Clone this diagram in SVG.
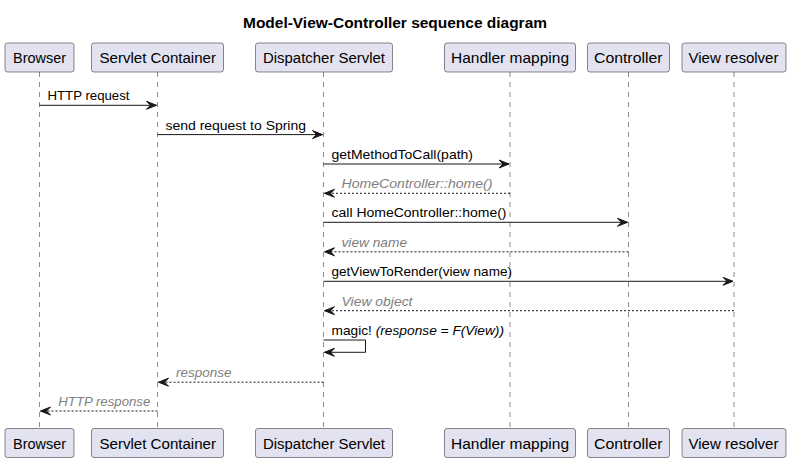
<svg xmlns="http://www.w3.org/2000/svg" width="791" height="463" viewBox="0 0 791 463">
<style>
.box{fill:#E2E2F0;stroke:#181818;stroke-width:0.5}
.plabel{font-family:"Liberation Sans",Arial,sans-serif;font-size:14px;fill:#000}
.life{stroke:#181818;stroke-width:0.5;stroke-dasharray:5,5;fill:none}
.msg{stroke:#181818;stroke-width:1;fill:none}
.ret{stroke:#181818;stroke-width:1;fill:none;stroke-dasharray:2,2}
.mlabel{font-family:"Liberation Sans",Arial,sans-serif;font-size:13px;fill:#000}
.rlabel{font-family:"Liberation Sans",Arial,sans-serif;font-size:13px;fill:#808080;font-style:italic}
.title{font-family:"Liberation Sans",Arial,sans-serif;font-size:14px;font-weight:bold;fill:#000}
</style>
<defs>
<marker id="ah" markerWidth="14" markerHeight="12" refX="11" refY="6" orient="auto" markerUnits="userSpaceOnUse" overflow="visible">
<polygon points="1,2 11,6 1,10 5,6" fill="#181818" stroke="#181818" stroke-width="1" stroke-linejoin="miter"/>
</marker>
</defs>
<rect width="791" height="463" fill="#FFFFFF"/>
<text class="title" x="243" y="28" textLength="304" lengthAdjust="spacingAndGlyphs">Model-View-Controller sequence diagram</text>

<g id="lifelines">
<line class="life" x1="39.5" y1="72" x2="39.5" y2="428"/>
<line class="life" x1="157.5" y1="72" x2="157.5" y2="428"/>
<line class="life" x1="323.5" y1="72" x2="323.5" y2="428"/>
<line class="life" x1="510" y1="72" x2="510" y2="428"/>
<line class="life" x1="628.5" y1="72" x2="628.5" y2="428"/>
<line class="life" x1="734" y1="72" x2="734" y2="428"/>
</g>

<g id="browser">
<rect class="box" x="5" y="43" width="69" height="29" rx="2.5"/>
<text class="plabel" x="13" y="63" textLength="53" lengthAdjust="spacingAndGlyphs">Browser</text>
<rect class="box" x="5" y="428.5" width="69" height="29" rx="2.5"/>
<text class="plabel" x="13" y="448.5" textLength="53" lengthAdjust="spacingAndGlyphs">Browser</text>
</g>
<g id="servlet-container">
<rect class="box" x="91.5" y="43" width="132" height="29" rx="2.5"/>
<text class="plabel" x="99.5" y="63" textLength="116.5" lengthAdjust="spacingAndGlyphs">Servlet Container</text>
<rect class="box" x="91.5" y="428.5" width="132" height="29" rx="2.5"/>
<text class="plabel" x="99.5" y="448.5" textLength="116.5" lengthAdjust="spacingAndGlyphs">Servlet Container</text>
</g>
<g id="dispatcher-servlet">
<rect class="box" x="255.5" y="43" width="137" height="29" rx="2.5"/>
<text class="plabel" x="263" y="63" textLength="122" lengthAdjust="spacingAndGlyphs">Dispatcher Servlet</text>
<rect class="box" x="255.5" y="428.5" width="137" height="29" rx="2.5"/>
<text class="plabel" x="263" y="448.5" textLength="122" lengthAdjust="spacingAndGlyphs">Dispatcher Servlet</text>
</g>
<g id="handler-mapping">
<rect class="box" x="444.5" y="43" width="131" height="29" rx="2.5"/>
<text class="plabel" x="451" y="63" textLength="118" lengthAdjust="spacingAndGlyphs">Handler mapping</text>
<rect class="box" x="444.5" y="428.5" width="131" height="29" rx="2.5"/>
<text class="plabel" x="451" y="448.5" textLength="118" lengthAdjust="spacingAndGlyphs">Handler mapping</text>
</g>
<g id="controller">
<rect class="box" x="587.5" y="43" width="82" height="29" rx="2.5"/>
<text class="plabel" x="594" y="63" textLength="68.5" lengthAdjust="spacingAndGlyphs">Controller</text>
<rect class="box" x="587.5" y="428.5" width="82" height="29" rx="2.5"/>
<text class="plabel" x="594" y="448.5" textLength="68.5" lengthAdjust="spacingAndGlyphs">Controller</text>
</g>
<g id="view-resolver">
<rect class="box" x="682" y="43" width="104" height="29" rx="2.5"/>
<text class="plabel" x="688.5" y="63" textLength="90" lengthAdjust="spacingAndGlyphs">View resolver</text>
<rect class="box" x="682" y="428.5" width="104" height="29" rx="2.5"/>
<text class="plabel" x="688.5" y="448.5" textLength="90" lengthAdjust="spacingAndGlyphs">View resolver</text>
</g>

<g id="connectors">
<line class="msg" x1="39.5" y1="105.3" x2="156.5" y2="105.3" marker-end="url(#ah)"/>
<line class="msg" x1="157.5" y1="134.6" x2="322.5" y2="134.6" marker-end="url(#ah)"/>
<line class="msg" x1="323.5" y1="164" x2="509" y2="164" marker-end="url(#ah)"/>
<line class="ret" x1="510" y1="193.3" x2="324.5" y2="193.3" marker-end="url(#ah)"/>
<line class="msg" x1="323.5" y1="222.3" x2="627.5" y2="222.3" marker-end="url(#ah)"/>
<line class="ret" x1="628.5" y1="251.8" x2="324.5" y2="251.8" marker-end="url(#ah)"/>
<line class="msg" x1="323.5" y1="281.3" x2="733" y2="281.3" marker-end="url(#ah)"/>
<line class="ret" x1="734" y1="310.7" x2="324.5" y2="310.7" marker-end="url(#ah)"/>
<polyline class="msg" points="323.5,340 365.5,340 365.5,352.3 324.5,352.3" marker-end="url(#ah)"/>
<line class="ret" x1="323.5" y1="382.2" x2="158.5" y2="382.2" marker-end="url(#ah)"/>
<line class="ret" x1="157.5" y1="411" x2="40.5" y2="411" marker-end="url(#ah)"/>
</g>

<g id="labels">
<text class="mlabel" x="47.5" y="100.3" textLength="82" lengthAdjust="spacingAndGlyphs">HTTP request</text>
<text class="mlabel" x="165.5" y="129.5" textLength="140.5" lengthAdjust="spacingAndGlyphs">send request to Spring</text>
<text class="mlabel" x="331.5" y="158.8" textLength="141.5" lengthAdjust="spacingAndGlyphs">getMethodToCall(path)</text>
<text class="rlabel" x="341.5" y="188.2" textLength="151" lengthAdjust="spacingAndGlyphs">HomeController::home()</text>
<text class="mlabel" x="331.5" y="217.3" textLength="175" lengthAdjust="spacingAndGlyphs">call HomeController::home()</text>
<text class="rlabel" x="341.5" y="246.6" textLength="65.5" lengthAdjust="spacingAndGlyphs">view name</text>
<text class="mlabel" x="331.5" y="276.2" textLength="180.5" lengthAdjust="spacingAndGlyphs">getViewToRender(view name)</text>
<text class="rlabel" x="341.5" y="305.6" textLength="71" lengthAdjust="spacingAndGlyphs">View object</text>
<text class="mlabel" x="331.5" y="335" textLength="172.5" lengthAdjust="spacingAndGlyphs">magic! <tspan font-style="italic">(response = F(View))</tspan></text>
<text class="rlabel" x="176" y="377" textLength="55.5" lengthAdjust="spacingAndGlyphs">response</text>
<text class="rlabel" x="58.3" y="406" textLength="92" lengthAdjust="spacingAndGlyphs">HTTP response</text>
</g>
</svg>
